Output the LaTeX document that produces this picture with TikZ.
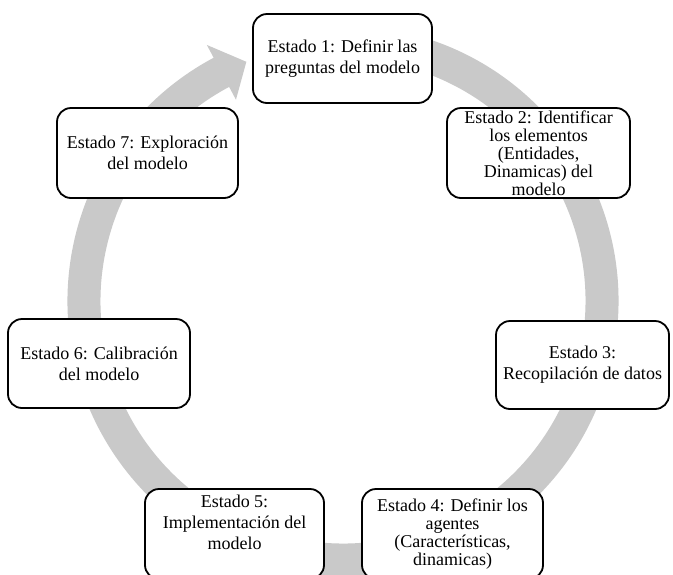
\documentclass[tikz,border=0pt]{standalone}
\usepackage{fontspec}
\setmainfont{Liberation Serif}
\definecolor{ringgray}{RGB}{201,201,201}
\begin{document}
\begin{tikzpicture}[x=1pt,y=1pt,
  stagebox/.style={draw=black, line width=1.8pt, rounded corners=14pt, fill=white,
    inner sep=0pt, align=center, font=\fontsize{18}{21}\selectfont},
  tightbox/.style={stagebox, font=\fontsize{18}{18}\selectfont},
  stagetext/.style={inner sep=0pt, align=center, font=\fontsize{18}{21}\selectfont}
]
\useasboundingbox (0,0) rectangle (673,-574);
\clip (0,0) rectangle (673,-574);
\fill[white] (0,0) rectangle (673,-574);

% circular arrow
\begin{scope}[shift={(343,-301)}]
\fill[ringgray] (80:275.5) arc[start angle=80, end angle=-242, radius=275.5]
  -- (118:290) -- (112:258) -- (118:228) -- (118:242.5)
  arc[start angle=-242, end angle=80, radius=242.5] -- cycle;
\end{scope}

% stages
\node[stagebox, minimum width=179pt, minimum height=89pt] (s1) at (342.5,-58.5)
  {Estado 1: Definir las\\preguntas del modelo};
\node[tightbox, minimum width=183pt, minimum height=90pt] (s2) at (538.5,-153)
  {Estado 2: Identificar\\los elementos\\(Entidades,\\Dinamicas) del\\modelo};
\node[stagebox, minimum width=173pt, minimum height=88pt] (s3) at (582.5,-365)
  {Estado 3:\\Recopilación de datos};
\node[tightbox, minimum width=181pt, minimum height=90pt] (s4) at (452.5,-534)
  {Estado 4: Definir los\\agentes\\(Características,\\dinamicas)};
\node[stagebox, minimum width=179pt, minimum height=90pt] (s5) at (234.5,-534) {};
\node[stagetext] (t5) at ([yshift=12pt]s5.center)
  {Estado 5:\\Implementación del\\modelo};
\node[stagebox, minimum width=182pt, minimum height=89pt] (s6) at (99,-363.5)
  {Estado 6: Calibración\\del modelo};
\node[stagebox, minimum width=181pt, minimum height=90pt] (s7) at (147.5,-153)
  {Estado 7: Exploración\\del modelo};
\end{tikzpicture}
\end{document}
